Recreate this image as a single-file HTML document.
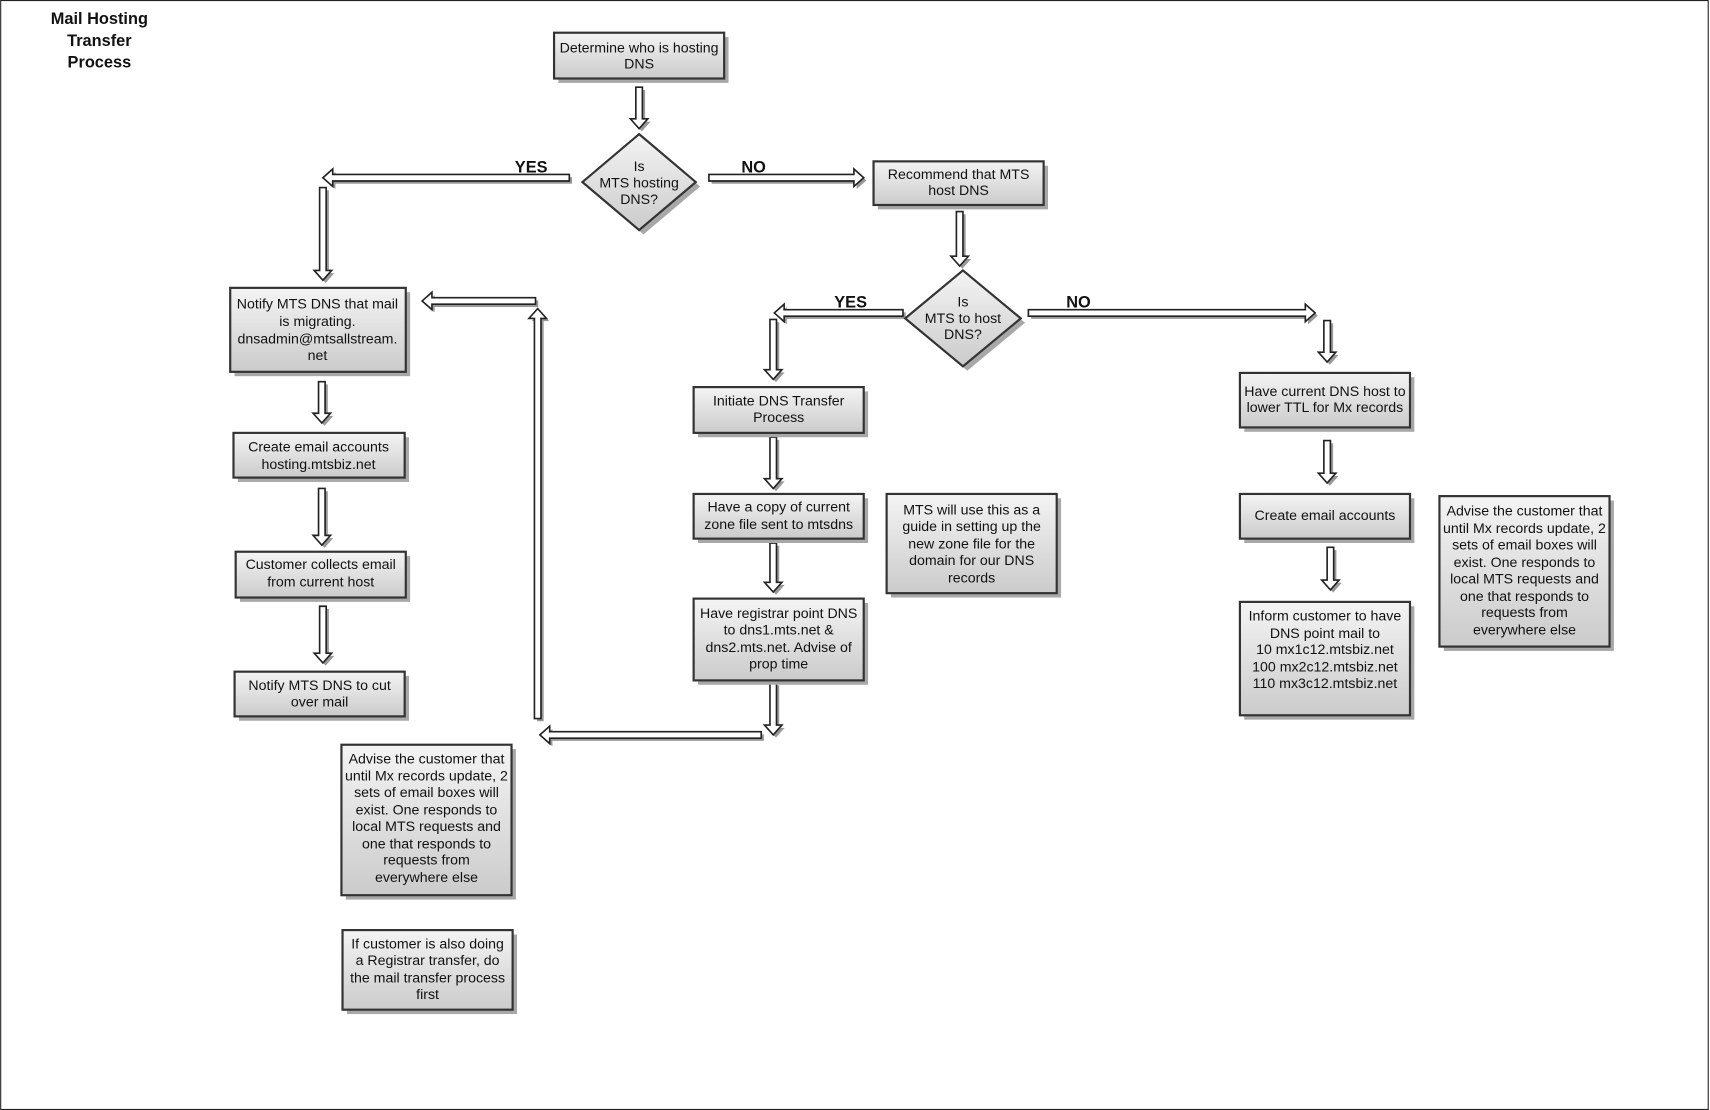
<!DOCTYPE html>
<html><head><meta charset="utf-8">
<style>
html,body{margin:0;padding:0;background:#fff;}
svg{display:block;}
text{font-family:"Liberation Sans",sans-serif;font-size:13px;fill:#111;}
.b{font-weight:bold;font-size:15px;}
</style></head>
<body>
<svg width="1710" height="1110" viewBox="0 0 1568 1018" xmlns="http://www.w3.org/2000/svg">
<defs>
<linearGradient id="g" x1="0" y1="0" x2="0" y2="1">
<stop offset="0" stop-color="#f4f4f4"/><stop offset="1" stop-color="#cbcbcb"/>
</linearGradient>
</defs>
<rect x="0.5" y="0.5" width="1566" height="1017" fill="none" stroke="#222" stroke-width="1"/>
<g id="arrows"></g>
<g id="boxes" stroke="#333" stroke-width="2" fill="url(#g)"></g>
<g text-anchor="middle">
<text class="b" x="91" y="22">Mail Hosting</text>
<text class="b" x="91" y="42">Transfer</text>
<text class="b" x="91" y="62">Process</text>
<text class="b" x="487" y="158">YES</text>
<text class="b" x="691" y="158">NO</text>
<text class="b" x="780" y="282">YES</text>
<text class="b" x="989" y="282">NO</text>

<text x="586" y="48">Determine who is hosting</text><text x="586" y="63">DNS</text>
<text x="586" y="157">Is</text><text x="586" y="172">MTS hosting</text><text x="586" y="187">DNS?</text>
<text x="879" y="164">Recommend that MTS</text><text x="879" y="179">host DNS</text>
<text x="883" y="281">Is</text><text x="883" y="296">MTS to host</text><text x="883" y="311">DNS?</text>
<text x="291" y="283">Notify MTS DNS that mail</text><text x="291" y="299">is migrating.</text><text x="291" y="315">dnsadmin@mtsallstream.</text><text x="291" y="330">net</text>
<text x="292" y="414">Create email accounts</text><text x="292" y="430">hosting.mtsbiz.net</text>
<text x="294" y="522">Customer collects email</text><text x="294" y="538">from current host</text>
<text x="293" y="633">Notify MTS DNS to cut</text><text x="293" y="648">over mail</text>
<text x="391" y="700">Advise the customer that</text><text x="391" y="716">until Mx records update, 2</text><text x="391" y="731">sets of email boxes will</text><text x="391" y="747">exist.  One responds to</text><text x="391" y="762">local MTS requests and</text><text x="391" y="778">one that responds to</text><text x="391" y="793">requests from</text><text x="391" y="809">everywhere else</text>
<text x="392" y="870">If customer is also doing</text><text x="392" y="885">a Registrar transfer, do</text><text x="392" y="901">the mail transfer process</text><text x="392" y="916">first</text>
<text x="714" y="372">Initiate DNS Transfer</text><text x="714" y="387">Process</text>
<text x="714" y="469">Have a copy of current</text><text x="714" y="485">zone file sent to mtsdns</text>
<text x="891" y="472">MTS will use this as a</text><text x="891" y="487">guide in setting up the</text><text x="891" y="503">new zone file for the</text><text x="891" y="518">domain for our DNS</text><text x="891" y="534">records</text>
<text x="714" y="567">Have registrar point DNS</text><text x="714" y="582">to dns1.mts.net &amp;</text><text x="714" y="598">dns2.mts.net.  Advise of</text><text x="714" y="613">prop time</text>
<text x="1215" y="363">Have current DNS host to</text><text x="1215" y="378">lower TTL for Mx records</text>
<text x="1215" y="477">Create email accounts</text>
<text x="1215" y="569">Inform customer to have</text><text x="1215" y="585">DNS point mail to</text><text x="1215" y="600">10 mx1c12.mtsbiz.net</text><text x="1215" y="616">100 mx2c12.mtsbiz.net</text><text x="1215" y="631">110 mx3c12.mtsbiz.net</text>
<text x="1398" y="473">Advise the customer that</text><text x="1398" y="489">until Mx records update, 2</text><text x="1398" y="504">sets of email boxes will</text><text x="1398" y="520">exist.  One responds to</text><text x="1398" y="535">local MTS requests and</text><text x="1398" y="551">one that responds to</text><text x="1398" y="566">requests from</text><text x="1398" y="582">everywhere else</text>
</g>
</svg>
<script>
var NS="http://www.w3.org/2000/svg";
function el(p,t,a){var e=document.createElementNS(NS,t);for(var k in a)e.setAttribute(k,a[k]);p.appendChild(e);return e;}
var B=document.getElementById('boxes'),A=document.getElementById('arrows');
var boxes=[[508,30,156,42],[801,148,156,40],[211,264,161,77],[214,397,157,41],[216,506,156,42],[215,616,156,41],[313,683,156,138],[314,853,156,73],[636,355,156,42],[636,453,156,41],[813,453,156,91],[636,549,156,75],[1137,342,156,50],[1137,453,156,41],[1137,552,156,104],[1320,455,156,138]];
boxes.forEach(function(b){
 el(B,'rect',{x:b[0]+4,y:b[1]+4,width:b[2],height:b[3],fill:'#a8a8a8',stroke:'none'});
 el(B,'rect',{x:b[0],y:b[1],width:b[2],height:b[3]});
});
[[586,167,52,44],[883,292,53,44]].forEach(function(d){
 var p=function(o){return (d[0]+o)+','+(d[1]-d[3]+o)+' '+(d[0]+d[2]+o)+','+(d[1]+o)+' '+(d[0]+o)+','+(d[1]+d[3]+o)+' '+(d[0]-d[2]+o)+','+(d[1]+o);};
 el(B,'polygon',{points:p(4),fill:'#a8a8a8',stroke:'none'});
 el(B,'polygon',{points:p(0)});
});
// arrow: from (x1,y1) to (x2,y2) axis aligned
function arrow(x1,y1,x2,y2){
 var s=3,h=8,L=9,pts;
 var dx=Math.sign(x2-x1),dy=Math.sign(y2-y1);
 function P(a,b){return [a,b];}
 if(dx===0){ // vertical
  var c=x1,hy=y2-dy*L;
  pts=[[c-s,y1],[c+s,y1],[c+s,hy],[c+h,hy],[c,y2],[c-h,hy],[c-s,hy]];
 } else {
  var c=y1,hx=x2-dx*L;
  pts=[[x1,c-s],[x1,c+s],[hx,c+s],[hx,c+h],[x2,c],[hx,c-h],[hx,c-s]];
 }
 var str=function(o){return pts.map(function(p){return (p[0]+o)+','+(p[1]+o);}).join(' ');};
 el(A,'polygon',{points:str(2.5),fill:'#999'});
 el(A,'polygon',{points:str(0),fill:'#fff',stroke:'#222','stroke-width':1.5});
}
[[586,80,586,118],[522,163,296,163],[296,172,296,257],[650,163,792,163],[880,194,880,244],
[828,287,710,287],[709,293,709,348],[943,287,1206,287],[1217,294,1217,332],[1217,404,1217,443],[1220,502,1220,541],
[709,401,709,448],[709,498,709,543],[709,626,709,674],[698,674,495,674],[493,659,493,283],[491,276,387,276],
[295,350,295,388],[295,448,295,500],[296,556,296,608]].forEach(function(a){arrow.apply(null,a);});
</script>
</body></html>
